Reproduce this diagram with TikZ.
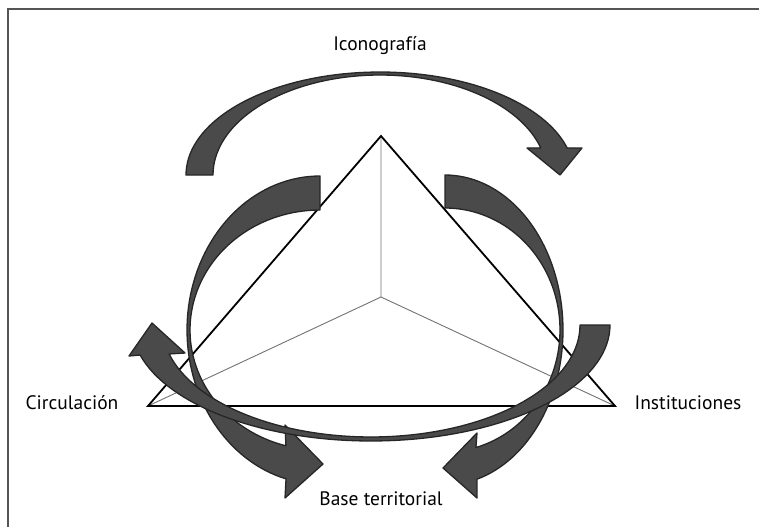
\documentclass[tikz,border=0pt]{standalone}
\usepackage{fontspec}
\setmainfont{PT Sans}
\definecolor{arrfill}{HTML}{4A4A4A}
\definecolor{arrline}{HTML}{262626}
\definecolor{framec}{HTML}{555555}
\begin{document}
\begin{tikzpicture}[x=1pt,y=-1pt,
  ribbon/.style={fill=arrfill, draw=arrline, line width=1.3pt, line join=round},
  tri/.style={draw=black, line width=1.8pt, line join=miter},
  spoke/.style={draw=black!55, line width=0.9pt},
  lbl/.style={font=\fontsize{19.5}{22}\selectfont, inner sep=0pt}]
\useasboundingbox (0,0) rectangle (759,527);
\fill[white] (0,0) rectangle (759,527);
\draw[framec, line width=2.2pt] (8,527) -- (8,9) -- (759,9);

\coordinate (A) at (381,136);
\coordinate (L) at (148,406);
\coordinate (R) at (615,406);
\coordinate (O) at (381,297);
\draw[spoke] (O) -- (A) (O) -- (L) (O) -- (R);
\draw[tri] (A) -- (L) -- (R) -- cycle;

% top arrow (Iconografia)
\path[ribbon] plot[domain=180:344.8, samples=70] ({380+194*cos(\x)},{175+103*sin(\x)})
  -- (582,148) -- (560,175) -- (527,148)
  -- plot[domain=344.3:180, samples=70] ({380+167*cos(\x)},{175+100*sin(\x)}) -- cycle;

% left ribbon
\path[ribbon] plot[domain=270:104.8, samples=70] ({320+133*cos(\x)},{330+154*sin(\x)})
  -- (285,498) -- (323,464) -- (285,425)
  -- plot[domain=105.2:270, samples=70] ({320+130*cos(\x)},{330+120*sin(\x)}) -- cycle;

% right ribbon
\path[ribbon] plot[domain=-90:74.3, samples=70] ({445+118*cos(\x)},{330+155*sin(\x)})
  -- (477,498) -- (443,468) -- (477,433)
  -- plot[domain=74.4:-90, samples=70] ({445+115*cos(\x)},{330+122*sin(\x)}) -- cycle;

% bottom arrow
\path[ribbon] plot[domain=0:165, samples=70] ({371+239*cos(\x)},{325+116*sin(\x)})
  -- (129,356) -- (152,323) -- (185,353)
  -- plot[domain=165:0, samples=70] ({371+209*cos(\x)},{325+112*sin(\x)}) -- cycle;

\node[lbl] (ico) at (380,46) {Iconografía};
\node[lbl] (circ) at (72,403) {Circulación};
\node[lbl] (inst) at (688,403) {Instituciones};
\node[lbl] (base) at (381,499) {Base territorial};
\end{tikzpicture}
\end{document}
